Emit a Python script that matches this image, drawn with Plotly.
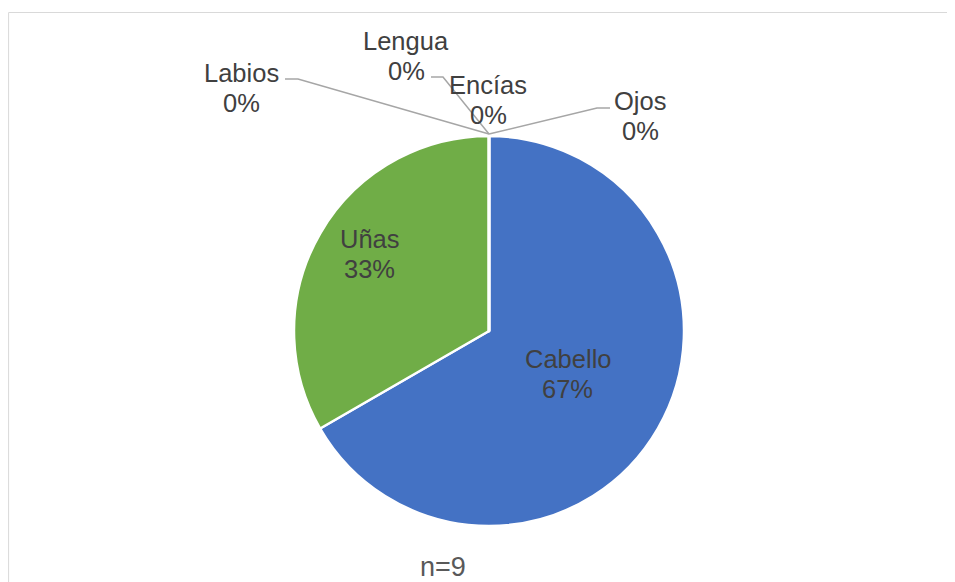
import math
import plotly.graph_objects as go

# ---- data ----
categories = ["Cabello", "Uñas", "Labios", "Lengua", "Encías", "Ojos"]
counts = [6, 3, 0, 0, 0, 0]
note = "n=9"

colors = ["#4472C4", "#70AD47", "#A5A5A5", "#FFC000", "#5B9BD5", "#ED7D31"]

# ---- layout / style ----
W, H = 955, 582
OFF = 8                             # page body margin of the html output
CX, CY, R = 489, 331, 195           # pie centre and radius in page pixels
FONT = "Liberation Sans, Arial, sans-serif"
TXT = "#404040"
FS = 25.5
LINE_GAP = 30

# inside label placement for non-zero slices: (fraction of radius, angle tweak in degrees)
inside_place = {"Cabello": (0.46, -1.4), "Uñas": (0.728, 3.0)}
# outside label placement (page pixel centre of first line) and elbow of leader line
outside_pos = {
    "Labios": dict(x=241, y=73, lx=[285, 298]),
    "Lengua": dict(x=406, y=41, lx=[431, 443]),
    "Encías": dict(x=488, y=85, lx=None),
    "Ojos":   dict(x=640, y=101, lx=[610, 597]),
}
leader_y = {"Labios": 79, "Lengua": 77, "Ojos": 108}


def px(x):
    return (x - OFF) / W


def py(y):
    return 1 - (y - OFF) / H


total = sum(counts)
pcts = [f"{round(100 * c / total)}%" for c in counts]

fig = go.Figure(go.Pie(
    labels=categories,
    values=counts,
    sort=False,
    direction="clockwise",
    rotation=0,
    marker=dict(colors=colors, line=dict(color="white", width=2.5)),
    textinfo="none",
    hoverinfo="label+percent",
    showlegend=False,
    domain=dict(x=[px(CX - R), px(CX + R)], y=[py(CY + R), py(CY - R)]),
))

annotations = []
shapes = []

# inside labels from slice mid-angles
cum = 0
for cat, c, p in zip(categories, counts, pcts):
    if c > 0:
        f, tweak = inside_place[cat]
        mid = (cum + c / 2) / total * 2 * math.pi + math.radians(tweak)
        x = CX + f * R * math.sin(mid)
        y = CY - f * R * math.cos(mid)
        for i, t in enumerate([cat, p]):
            annotations.append(dict(
                x=px(x), y=py(y - LINE_GAP / 2 + i * LINE_GAP), xref="paper", yref="paper",
                text=t, showarrow=False, xanchor="center", yanchor="middle",
                font=dict(family=FONT, size=FS, color=TXT)))
    cum += c

# outside labels for zero slices, with leader lines to the pie top
top_x, top_y = CX, CY - R - 2
for cat, c, p in zip(categories, counts, pcts):
    if c == 0:
        pos = outside_pos[cat]
        for i, t in enumerate([cat, p]):
            annotations.append(dict(
                x=px(pos["x"]), y=py(pos["y"] + i * LINE_GAP), xref="paper", yref="paper",
                text=t, showarrow=False, xanchor="center", yanchor="middle",
                font=dict(family=FONT, size=FS, color=TXT)))
        if pos["lx"]:
            ly = leader_y[cat]
            x0, x1 = pos["lx"]
            path = (f"M {px(x0)},{py(ly)} L {px(x1)},{py(ly)} "
                    f"L {px(top_x)},{py(top_y)}")
            shapes.append(dict(type="path", xref="paper", yref="paper", path=path,
                               line=dict(color="#A6A6A6", width=1.5), layer="above"))

annotations.append(dict(
    x=px(443), y=py(567), xref="paper", yref="paper", text=note, showarrow=False,
    xanchor="center", yanchor="middle", font=dict(family=FONT, size=27, color="#595959")))

# chart border (left edge as close to the reference as the page allows)
shapes.append(dict(type="rect", xref="paper", yref="paper",
                   x0=0.6 / W, x1=1.05, y0=-0.05, y1=py(12.5),
                   line=dict(color="#D9D9D9", width=1), layer="below"))

fig.update_layout(
    width=W, height=H,
    margin=dict(l=0, r=0, t=0, b=0),
    paper_bgcolor="white",
    plot_bgcolor="white",
    annotations=annotations,
    shapes=shapes,
)

fig.write_html("out.html")
